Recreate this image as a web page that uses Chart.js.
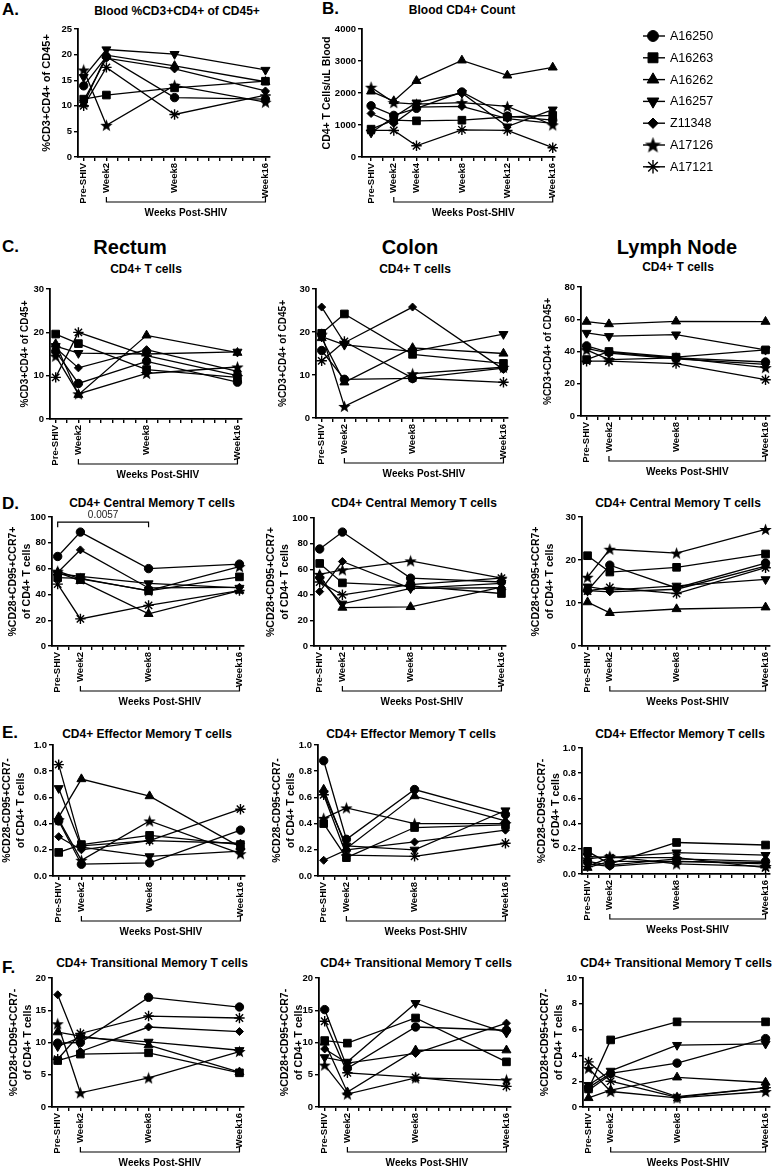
<!DOCTYPE html>
<html>
<head>
<meta charset="utf-8">
<script src="https://cdn.jsdelivr.net/npm/chart.js@4.4.0/dist/chart.umd.min.js"></script>
<style>
body { margin: 0; background: #fff; width: 777px; height: 1166px; position: relative; overflow: hidden;
       font-family: 'Liberation Sans', Arial, Helvetica, sans-serif; color: #000; }
canvas { position: absolute; }
.t { position: absolute; font-weight: bold; white-space: nowrap; transform: translate(-50%, -50%); }
.l { position: absolute; font-weight: bold; white-space: nowrap; transform: translate(0, -50%); font-size: 17px; }
</style>
</head>
<body>

<div class="l" style="left:2px;top:10px">A.</div>
<div class="l" style="left:322px;top:9px">B.</div>
<div class="l" style="left:2px;top:247px">C.</div>
<div class="l" style="left:2px;top:504px">D.</div>
<div class="l" style="left:2px;top:733px">E.</div>
<div class="l" style="left:2px;top:968px">F.</div>

<div class="t" style="left:177px;top:11px;font-size:12px">Blood %CD3+CD4+ of CD45+</div>
<div class="t" style="left:462px;top:10px;font-size:12px">Blood CD4+ Count</div>

<div class="t" style="left:130px;top:247px;font-size:20px">Rectum</div>
<div class="t" style="left:410px;top:247px;font-size:20px">Colon</div>
<div class="t" style="left:677px;top:247px;font-size:20px">Lymph Node</div>

<div class="t" style="left:146px;top:269px;font-size:12px">CD4+ T cells</div>
<div class="t" style="left:415px;top:269px;font-size:12px">CD4+ T cells</div>
<div class="t" style="left:678px;top:267px;font-size:12px">CD4+ T cells</div>

<div class="t" style="left:152px;top:503px;font-size:12px">CD4+ Central Memory T cells</div>
<div class="t" style="left:414px;top:503px;font-size:12px">CD4+ Central Memory T cells</div>
<div class="t" style="left:678px;top:503px;font-size:12px">CD4+ Central Memory T cells</div>

<div class="t" style="left:147px;top:734px;font-size:12px">CD4+ Effector Memory T cells</div>
<div class="t" style="left:411px;top:734px;font-size:12px">CD4+ Effector Memory T cells</div>
<div class="t" style="left:680px;top:734px;font-size:12px">CD4+ Effector Memory T cells</div>

<div class="t" style="left:152px;top:963px;font-size:12px">CD4+ Transitional Memory T cells</div>
<div class="t" style="left:416px;top:963px;font-size:12px">CD4+ Transitional Memory T cells</div>
<div class="t" style="left:676px;top:963px;font-size:12px">CD4+ Transitional Memory T cells</div>

<script>
// ---- data ----
const animals = ['A16250', 'A16263', 'A16262', 'A16257', 'Z11348', 'A17126', 'A17121'];
const weeks = [0, 2, 8, 16];
const weeksBlood = [0, 2, 4, 8, 12, 16];
const weekLabels = { 0: 'Pre-SHIV', 2: 'Week2', 4: 'Week4', 8: 'Week8', 12: 'Week12', 16: 'Week16' };

// rows follow the animals order
const bloodPct = [
    [13.9, 19.6, 11.6, 11.3],
    [11.3, 12.1, 13.5, 14.8],
    [10.3, 19.9, 17.8, 14.7],
    [15.6, 21.0, 20.1, 17.0],
    [11.0, 19.3, 17.2, 12.9],
    [17.0, 6.2, 14.0, 10.7],
    [10.0, 17.5, 8.3, 12.1]
];
const bloodCount = [
    [1600, 1300, 1520, 2030, 1280, 1150],
    [870, 1150, 1130, 1150, 1250, 1300],
    [2050, 1750, 2380, 3020, 2550, 2800],
    [760, 1250, 1700, 2000, 950, 1480],
    [1360, 1050, 1560, 1580, 1200, 1050],
    [2180, 1700, 1650, 1700, 1580, 1000],
    [830, 830, 350, 850, 830, 290]
];
const rectumCD4 = [
    [15.6, 8.2, 13.3, 8.5],
    [19.6, 17.4, 11.4, 9.6],
    [17.3, 5.6, 19.3, 15.3],
    [16.8, 15.2, 15.0, 15.5],
    [16.4, 11.8, 16.0, 11.0],
    [14.5, 5.8, 10.5, 12.0],
    [9.6, 20.0, 14.6, 10.0]
];
const colonCD4 = [
    [15.7, 9.0, 9.2, 11.6],
    [19.7, 24.2, 14.8, 12.7],
    [18.6, 8.3, 16.3, 15.0],
    [18.9, 17.0, 15.5, 19.5],
    [25.8, 17.5, 25.8, 11.3],
    [19.5, 2.7, 10.3, 11.8],
    [13.3, 17.8, 9.3, 8.3]
];
const lnCD4 = [
    [43.5, 39.5, 36.0, 33.5],
    [35.0, 40.0, 36.5, 41.0],
    [58.5, 57.0, 58.7, 58.5],
    [51.5, 49.5, 50.5, 41.0],
    [42.0, 39.0, 35.5, 32.0],
    [41.0, 35.0, 36.0, 30.0],
    [34.0, 34.0, 32.5, 22.5]
];
const rectumCM = [
    [69.4, 88.3, 60.0, 63.5],
    [53.0, 52.5, 42.8, 53.6],
    [57.0, 50.5, 24.9, 43.0],
    [56.0, 54.0, 48.5, 45.0],
    [57.0, 74.5, 45.0, 45.5],
    [58.0, 52.0, 43.0, 61.5],
    [48.0, 21.0, 31.5, 43.0]
];
const colonCM = [
    [75.8, 89.0, 53.0, 50.0],
    [64.5, 49.3, 47.0, 41.0],
    [55.0, 30.0, 30.5, 46.0],
    [52.0, 33.0, 45.0, 49.0],
    [42.5, 66.0, 45.0, 45.5],
    [56.0, 59.5, 66.5, 53.0],
    [50.0, 40.0, 48.0, 53.0]
];
const lnCM = [
    [12.9, 18.8, 13.5, 19.3],
    [21.0, 17.2, 18.3, 21.4],
    [10.2, 7.7, 8.6, 9.0],
    [13.8, 13.0, 14.0, 15.5],
    [12.9, 12.6, 13.2, 18.6],
    [16.0, 22.5, 21.6, 27.1],
    [12.8, 13.6, 12.2, 18.2]
];
const rectumEM = [
    [0.42, 0.09, 0.10, 0.35],
    [0.18, 0.24, 0.31, 0.24],
    [0.45, 0.74, 0.61, 0.22],
    [0.67, 0.22, 0.15, 0.19],
    [0.30, 0.20, 0.27, 0.25],
    [0.43, 0.12, 0.42, 0.17],
    [0.85, 0.23, 0.27, 0.51]
];
const colonEM = [
    [0.88, 0.28, 0.66, 0.47],
    [0.40, 0.14, 0.37, 0.39],
    [0.66, 0.21, 0.61, 0.42],
    [0.63, 0.23, 0.20, 0.50],
    [0.12, 0.20, 0.26, 0.35],
    [0.44, 0.52, 0.40, 0.40],
    [0.62, 0.16, 0.15, 0.25]
];
const lnEM = [
    [0.10, 0.07, 0.12, 0.10],
    [0.18, 0.08, 0.25, 0.23],
    [0.05, 0.10, 0.10, 0.08],
    [0.14, 0.13, 0.17, 0.15],
    [0.08, 0.06, 0.10, 0.09],
    [0.12, 0.14, 0.08, 0.06],
    [0.06, 0.13, 0.13, 0.05]
];
const rectumTM = [
    [9.9, 10.0, 17.0, 15.5],
    [7.2, 8.2, 8.4, 5.3],
    [11.6, 11.0, 9.6, 5.4],
    [9.4, 10.8, 10.1, 8.8],
    [17.4, 8.6, 12.4, 11.7],
    [12.9, 2.2, 4.5, 8.6],
    [7.4, 11.4, 14.1, 13.8]
];
const colonTM = [
    [15.1, 6.0, 12.4, 11.9],
    [10.3, 9.9, 13.8, 7.0],
    [10.0, 2.3, 8.8, 8.8],
    [7.7, 7.0, 16.1, 11.5],
    [9.0, 6.8, 8.3, 13.0],
    [6.5, 2.0, 4.5, 4.2],
    [13.3, 5.3, 4.6, 3.2]
];
const lnTM = [
    [1.5, 2.6, 3.4, 5.3],
    [1.4, 5.2, 6.6, 6.6],
    [0.7, 1.3, 2.3, 1.9],
    [1.7, 2.8, 4.8, 4.9],
    [1.3, 2.5, 0.8, 1.5],
    [3.0, 1.2, 0.7, 1.2],
    [3.5, 2.0, 0.75, 1.5]
];

// ---- styling ----
const FONT = "'Liberation Sans', Arial, Helvetica, sans-serif";
Chart.defaults.font.family = FONT;
Chart.defaults.color = '#000';

const PX_PER_WEEK = 11.4;

// filled five point star, used as an image point style
function makeStar(d) {
    const c = document.createElement('canvas');
    c.width = d; c.height = d;
    const g = c.getContext('2d');
    const R = d / 2, r = R * 0.42;
    g.beginPath();
    for (let k = 0; k < 10; k++) {
        const a = -Math.PI / 2 + k * Math.PI / 5;
        const rr = k % 2 ? r : R;
        g.lineTo(R + rr * Math.cos(a), R + 0.6 + rr * Math.sin(a));
    }
    g.closePath();
    g.fillStyle = '#000';
    g.fill();
    return c;
}

const marks = [
    { style: 'circle', r: 4.2 },
    { style: 'rect', r: 5.4 },
    { style: 'triangle', r: 5.2 },
    { style: 'triangle', r: 5.2, rot: 180 },
    { style: 'rectRot', r: 4 },
    { style: makeStar(13), r: 6 },
    { style: 'star', r: 5.2, bw: 1.4 }
];

// bracket under the x axis, plus optional p-value bracket
function bracketPlugin(sig) {
    return {
        id: 'weeksBracket',
        afterDraw(chart) {
            const { ctx, chartArea, scales } = chart;
            const x = scales.x, y = scales.y;
            const yb = chartArea.bottom + 45;
            const x1 = x.getPixelForValue(2), x2 = x.getPixelForValue(16);
            ctx.save();
            ctx.strokeStyle = '#000';
            ctx.lineWidth = 1.2;
            ctx.beginPath();
            ctx.moveTo(x1, yb - 5); ctx.lineTo(x1, yb); ctx.lineTo(x2, yb); ctx.lineTo(x2, yb - 5);
            ctx.stroke();
            ctx.fillStyle = '#000';
            ctx.font = 'bold 10px ' + FONT;
            ctx.textAlign = 'center';
            ctx.textBaseline = 'middle';
            ctx.fillText('Weeks Post-SHIV', (x1 + x2) / 2, yb + 11);
            if (sig) {
                const s1 = x.getPixelForValue(sig.from), s2 = x.getPixelForValue(sig.to);
                const sy = y.getPixelForValue(sig.at);
                ctx.beginPath();
                ctx.moveTo(s1, sy + 5); ctx.lineTo(s1, sy); ctx.lineTo(s2, sy); ctx.lineTo(s2, sy + 5);
                ctx.stroke();
                ctx.font = '10px ' + FONT;
                ctx.fillStyle = '#222';
                ctx.fillText(sig.text, (s1 + s2) / 2, sy - 7);
            }
            ctx.restore();
        }
    };
}

function makePanel(p) {
    const padTop = 14, below = 64;
    const xmin = p.xmin !== undefined ? p.xmin : -0.5;
    const xmax = p.xmax !== undefined ? p.xmax : 16.4;
    const xs = p.xs || weeks;
    const labelled = p.labelled || [0, 2, 8, 16];
    const plotW = (xmax - xmin) * PX_PER_WEEK;
    const yAxisW = p.axisX - p.left;
    const H = padTop + (p.bottom - p.top) + below;
    const W = Math.min(777 - p.left, Math.round(yAxisW + plotW + 6));

    const canvas = document.createElement('canvas');
    canvas.width = W;
    canvas.height = H;
    canvas.style.left = p.left + 'px';
    canvas.style.top = (p.top - padTop) + 'px';
    document.body.appendChild(canvas);

    const datasets = p.data.map((vals, i) => ({
        label: animals[i],
        data: xs.map((x, j) => ({ x: x, y: vals[j] })),
        borderColor: '#000',
        backgroundColor: '#000',
        borderWidth: 1.3,
        pointStyle: marks[i].style,
        pointRadius: marks[i].r,
        pointRotation: marks[i].rot || 0,
        pointBorderWidth: marks[i].bw || 1,
        pointBackgroundColor: '#000',
        pointBorderColor: '#000',
        tension: 0,
        clip: false
    }));

    const lh = p.titleLH || 1.2;
    new Chart(canvas, {
        type: 'line',
        data: { datasets: datasets },
        options: {
            responsive: false,
            devicePixelRatio: 1,
            animation: false,
            layout: { padding: { top: padTop, right: W - yAxisW - plotW, left: 0, bottom: 0 } },
            plugins: { legend: { display: false }, tooltip: { enabled: false } },
            scales: {
                x: {
                    type: 'linear',
                    min: xmin,
                    max: xmax,
                    afterBuildTicks: (s) => {
                        const t = [];
                        for (let w = 0; w <= 16; w++) t.push({ value: w });
                        s.ticks = t;
                    },
                    afterFit: (s) => { s.height = below; s.paddingLeft = 0; s.paddingRight = 0; },
                    border: { display: true, color: '#000', width: 1.8 },
                    grid: { drawOnChartArea: false, drawTicks: true, tickLength: 4, color: '#000', lineWidth: 1.4 },
                    ticks: {
                        autoSkip: false,
                        minRotation: 90,
                        maxRotation: 90,
                        padding: 2,
                        color: '#000',
                        font: { size: 9.5, weight: 'bold' },
                        callback: (v) => labelled.includes(v) ? weekLabels[v] : ''
                    }
                },
                y: {
                    min: 0,
                    max: p.ymax,
                    afterFit: (s) => { s.width = yAxisW; s.paddingTop = 0; s.paddingBottom = 0; },
                    border: { display: true, color: '#000', width: 1.8 },
                    grid: { drawOnChartArea: false, drawTicks: true, tickLength: 4, color: '#000', lineWidth: 1.4 },
                    ticks: {
                        stepSize: p.step,
                        padding: 2,
                        color: '#000',
                        font: { size: 9.5, weight: 'bold' },
                        callback: (v) => p.decimals ? v.toFixed(p.decimals) : v
                    },
                    title: {
                        display: true,
                        text: p.ytitle,
                        color: '#000',
                        padding: { top: p.titlePad !== undefined ? p.titlePad : 4, bottom: 0 },
                        font: { size: p.titleSize || 10, weight: 'bold', lineHeight: lh }
                    }
                }
            }
        },
        plugins: [bracketPlugin(p.sig)]
    });
}

const cmTitle = ['%CD28+CD95+CCR7+', 'of CD4+ T cells'];
const emTitle = ['%CD28-CD95+CCR7-', 'of CD4+ T cells'];
const tmTitle = ['%CD28+CD95+CCR7-', 'of CD4+ T cells'];

// row A / B
makePanel({ left: 36, axisX: 78, top: 29, bottom: 157, data: bloodPct, ymax: 25, step: 5,
            ytitle: '%CD3+CD4+ of CD45+', titleSize: 11 });
makePanel({ left: 317, axisX: 362, top: 29, bottom: 157, data: bloodCount, ymax: 4000, step: 1000,
            xs: weeksBlood, labelled: weeksBlood, xmin: -0.8, xmax: 16.2,
            ytitle: 'CD4+ T Cells/uL Blood', titleSize: 10.5 });

// row C
makePanel({ left: 15, axisX: 50, top: 289, bottom: 419, data: rectumCD4, ymax: 30, step: 10, ytitle: '%CD3+CD4+ of CD45+' });
makePanel({ left: 273, axisX: 316, top: 289, bottom: 418, data: colonCD4, ymax: 30, step: 10, ytitle: '%CD3+CD4+ of CD45+' });
makePanel({ left: 538, axisX: 581, top: 287, bottom: 416, data: lnCD4, ymax: 80, step: 20, ytitle: '%CD3+CD4+ of CD45+' });

// row D
makePanel({ left: 2, axisX: 52, top: 517, bottom: 646, data: rectumCM, ymax: 100, step: 20, ytitle: cmTitle,
            titleSize: 10.5, titleLH: 1.35, sig: { from: 0, to: 8, at: 96, text: '0.0057' } });
makePanel({ left: 260, axisX: 314, top: 518, bottom: 646, data: colonCM, ymax: 100, step: 20, ytitle: cmTitle,
            titleSize: 10.5, titleLH: 1.35 });
makePanel({ left: 525, axisX: 582, top: 517, bottom: 646, data: lnCM, ymax: 30, step: 10, ytitle: cmTitle,
            titleSize: 10.5, titleLH: 1.35 });

// row E
makePanel({ left: 0, axisX: 53, top: 745, bottom: 876, data: rectumEM, ymax: 1, step: 0.2, decimals: 1, ytitle: emTitle,
            titleSize: 10.5, titleLH: 1.35, titlePad: 0 });
makePanel({ left: 266, axisX: 318, top: 745, bottom: 876, data: colonEM, ymax: 1, step: 0.2, decimals: 1, ytitle: emTitle,
            titleSize: 10.5, titleLH: 1.35 });
makePanel({ left: 531, axisX: 582, top: 748, bottom: 874, data: lnEM, ymax: 1, step: 0.2, decimals: 1, ytitle: emTitle,
            titleSize: 10.5, titleLH: 1.35 });

// row F
makePanel({ left: 3, axisX: 52, top: 978, bottom: 1107, data: rectumTM, ymax: 20, step: 5, ytitle: tmTitle,
            titleSize: 10.5, titleLH: 1.35 });
makePanel({ left: 274, axisX: 319, top: 978, bottom: 1107, data: colonTM, ymax: 20, step: 5, ytitle: tmTitle,
            titleSize: 10.5, titleLH: 1.35 });
makePanel({ left: 534, axisX: 583, top: 978, bottom: 1107, data: lnTM, ymax: 10, step: 2, ytitle: tmTitle,
            titleSize: 10.5, titleLH: 1.35 });

// legend beside panel B
(function drawLegend() {
    const c = document.createElement('canvas');
    c.width = 141; c.height = 160;
    c.style.left = '636px'; c.style.top = '24px';
    document.body.appendChild(c);
    const ctx = c.getContext('2d');
    const bigStar = makeStar(17);
    animals.forEach((name, i) => {
        const y = 12 + i * 21.8;
        ctx.strokeStyle = '#000';
        ctx.fillStyle = '#000';
        ctx.lineWidth = 1.4;
        ctx.beginPath();
        ctx.moveTo(7, y); ctx.lineTo(29, y);
        ctx.stroke();
        const m = marks[i];
        const style = i === 5 ? bigStar : m.style;
        ctx.lineWidth = m.bw || 1;
        if (Chart.helpers && Chart.helpers.drawPoint) {
            Chart.helpers.drawPoint(ctx, { pointStyle: style, rotation: m.rot || 0, radius: m.r * 1.3, borderWidth: m.bw || 1 }, 17, y);
        }
        ctx.fillStyle = '#000';
        ctx.font = '12.5px ' + FONT;
        ctx.textBaseline = 'middle';
        ctx.fillText(name, 34, y + 0.5);
    });
})();
</script>
</body>
</html>
